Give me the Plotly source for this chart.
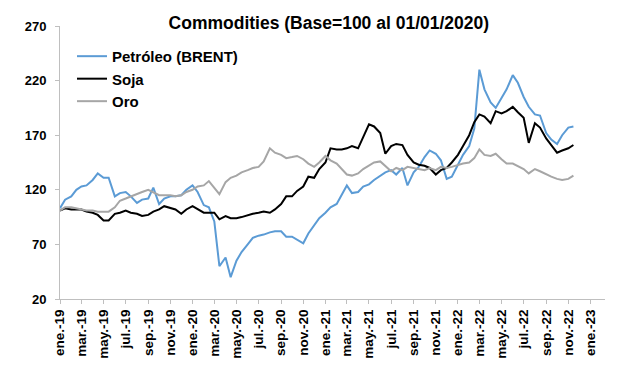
import pandas as pd
import plotly.graph_objects as go

# Semi-monthly observation dates (1st and 15th), Jan 2019 -> mid Nov 2022
dates = pd.date_range("2019-01-01", periods=94, freq="SMS")

brent = [103, 111, 114, 120, 123, 124, 129, 135, 131, 131, 114, 117, 118, 114, 108, 111, 112, 122, 107, 112,
         114, 114, 115, 120, 124, 118, 106, 104, 91, 50, 58, 40, 55, 63, 70, 76, 78, 79, 81, 82,
         82, 77, 77, 74, 71, 80, 88, 94, 99, 104, 107, 115, 124, 117, 118, 123, 125, 129, 133, 136,
         138, 134, 140, 124, 136, 141, 150, 156, 153, 147, 130, 132, 143, 152, 160, 176, 230, 212, 200, 195,
         204, 212, 225, 218, 205, 196, 189, 188, 172, 166, 162, 170, 177, 178]

soja = [101, 103, 102, 102, 102, 100, 99, 97, 92, 92, 98, 99, 101, 99, 98, 96, 97, 100, 102, 105,
        103, 102, 98, 102, 105, 102, 99, 99, 99, 93, 96, 94, 94, 95, 97, 98, 99, 100, 99, 102,
        107, 114, 114, 119, 123, 132, 131, 139, 145, 158, 157, 157, 158, 160, 158, 168, 180, 178, 172, 153,
        160, 162, 161, 152, 145, 143, 142, 140, 134, 138, 140, 145, 152, 160, 170, 182, 189, 187, 181, 192,
        190, 192, 196, 191, 186, 163, 181, 177, 167, 161, 154, 156, 158, 161]

oro = [101, 104, 104, 103, 102, 101, 101, 100, 100, 100, 104, 110, 112, 114, 116, 118, 120, 118, 115, 115,
       115, 114, 115, 118, 120, 123, 124, 128, 122, 116, 127, 131, 133, 136, 138, 140, 141, 146, 158, 154,
       152, 149, 150, 151, 148, 144, 141, 145, 151, 147, 144, 139, 134, 133, 135, 139, 142, 145, 146, 142,
       137, 140, 138, 141, 140, 139, 138, 140, 138, 141, 140, 141, 143, 144, 145, 149, 157, 152, 151, 153,
       148, 144, 144, 142, 139, 135, 139, 137, 134, 132, 130, 129, 130, 133]

tick_dates = ["2019-01-01", "2019-03-01", "2019-05-01", "2019-07-01", "2019-09-01", "2019-11-01",
              "2020-01-01", "2020-03-01", "2020-05-01", "2020-07-01", "2020-09-01", "2020-11-01",
              "2021-01-01", "2021-03-01", "2021-05-01", "2021-07-01", "2021-09-01", "2021-11-01",
              "2022-01-01", "2022-03-01", "2022-05-01", "2022-07-01", "2022-09-01", "2022-11-01",
              "2023-01-01"]
tick_labels = ["ene.-19", "mar.-19", "may.-19", "jul.-19", "sep.-19", "nov.-19",
               "ene.-20", "mar.-20", "may.-20", "jul.-20", "sep.-20", "nov.-20",
               "ene.-21", "mar.-21", "may.-21", "jul.-21", "sep.-21", "nov.-21",
               "ene.-22", "mar.-22", "may.-22", "jul.-22", "sep.-22", "nov.-22",
               "ene.-23"]
y_ticks = [20, 70, 120, 170, 220, 270]

series = [("Petróleo (BRENT)", brent, "#5B9BD5"),
          ("Soja", soja, "#000000"),
          ("Oro", oro, "#A6A6A6")]

fig = go.Figure()
for i, (name, vals, color) in enumerate(series):
    fig.add_trace(go.Scatter(x=dates, y=vals, mode="lines", name=name,
                             legendgroup=f"g{i}",
                             line=dict(color=color, width=2)))

font_family = "Liberation Sans, Arial, sans-serif"
fig.update_layout(
    width=617, height=370,
    margin=dict(l=52, r=20, t=18, b=79),
    paper_bgcolor="white", plot_bgcolor="white",
    font=dict(family=font_family, color="#000000"),
    title=dict(text="<b>Commodities (Base=100 al 01/01/2020)</b>",
               x=0.52, xref="container", xanchor="center",
               y=1 - 14.5 / 370, yref="container", yanchor="middle",
               font=dict(size=17.5, family=font_family, color="#000000")),
    showlegend=True,
    legend=dict(x=0.022, y=0.949, xanchor="left", yanchor="top",
                bgcolor="rgba(0,0,0,0)", font=dict(size=15, family=font_family, weight="bold"),
                tracegroupgap=2.5, traceorder="normal"),
    xaxis=dict(type="date", range=["2019-01-01", "2023-02-10"],
               tickmode="array", tickvals=tick_dates, ticktext=tick_labels,
               tickangle=-90, ticks="outside", ticklen=4, tickcolor="#BFBFBF",
               showline=True, linecolor="#BFBFBF", linewidth=1,
               showgrid=False, zeroline=False,
               tickfont=dict(size=13.5, family=font_family, weight="bold")),
    yaxis=dict(range=[20, 270], tickmode="array", tickvals=y_ticks,
               ticks="outside", ticklen=4, tickcolor="#BFBFBF",
               showline=True, linecolor="#BFBFBF", linewidth=1,
               showgrid=False, zeroline=False, ticklabelstandoff=6,
               tickfont=dict(size=13, family=font_family, weight="bold")),
)

fig.write_html("out.html")
